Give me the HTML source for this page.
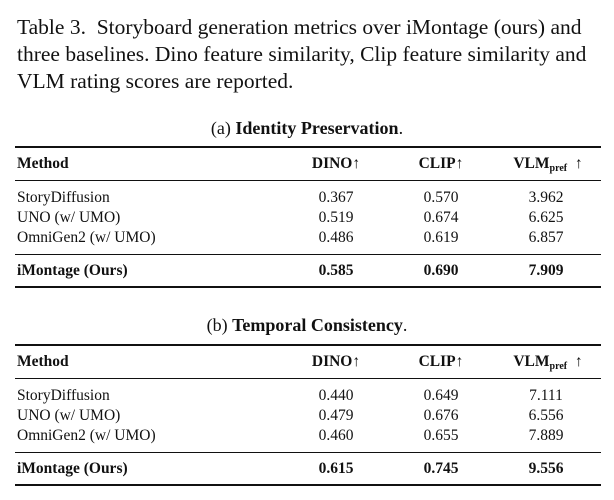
<!DOCTYPE html>
<html><head><meta charset="utf-8"><style>
html,body{margin:0;padding:0;background:#fff;}
body{width:614px;height:500px;position:relative;overflow:hidden;font-family:"Liberation Serif",serif;color:#111;}
.t{position:absolute;white-space:nowrap;line-height:1;}
.cap{font-size:21.5px;left:17px;}
.c{transform:translateX(-50%);}
.r{position:absolute;left:15px;width:586px;background:#111;}
.s{font-size:15.5px;}
b{font-weight:bold;}
sub{font-size:10px;vertical-align:-3px;}
</style></head><body>
<div class="t cap" style="top:17px">Table 3.&nbsp; Storyboard generation metrics over iMontage (ours) and</div>
<div class="t cap" style="top:44px">three baselines. Dino feature similarity, Clip feature similarity and</div>
<div class="t cap" style="top:71px">VLM rating scores are reported.</div>

<div class="t c" style="left:307px;top:119px;font-size:18px">(a) <b>Identity Preservation</b>.</div>
<div class="r" style="top:146px;height:2px"></div>
<div class="t s" style="left:17px;top:156px"><b>Method</b></div>
<div class="t s c" style="left:336px;top:156px"><b>DINO↑</b></div>
<div class="t s c" style="left:441px;top:156px"><b>CLIP↑</b></div>
<div class="t s c" style="left:548px;top:156px"><b>VLM<sub>pref</sub></b> &nbsp;↑</div>
<div class="r" style="top:180px;height:1px"></div>
<div class="t s" style="left:17px;top:190px">StoryDiffusion</div>
<div class="t s" style="left:17px;top:210px">UNO (w/ UMO)</div>
<div class="t s" style="left:17px;top:230px">OmniGen2 (w/ UMO)</div>
<div class="t s c" style="left:336px;top:190px">0.367</div><div class="t s c" style="left:441px;top:190px">0.570</div><div class="t s c" style="left:546px;top:190px">3.962</div>
<div class="t s c" style="left:336px;top:210px">0.519</div><div class="t s c" style="left:441px;top:210px">0.674</div><div class="t s c" style="left:546px;top:210px">6.625</div>
<div class="t s c" style="left:336px;top:230px">0.486</div><div class="t s c" style="left:441px;top:230px">0.619</div><div class="t s c" style="left:546px;top:230px">6.857</div>
<div class="r" style="top:254px;height:1px"></div>
<div class="t s" style="left:17px;top:263px"><b>iMontage (Ours)</b></div>
<div class="t s c" style="left:336px;top:263px"><b>0.585</b></div><div class="t s c" style="left:441px;top:263px"><b>0.690</b></div><div class="t s c" style="left:546px;top:263px"><b>7.909</b></div>
<div class="r" style="top:286px;height:2px"></div>

<div class="t c" style="left:307px;top:316px;font-size:18px">(b) <b>Temporal Consistency</b>.</div>
<div class="r" style="top:344px;height:2px"></div>
<div class="t s" style="left:17px;top:354px"><b>Method</b></div>
<div class="t s c" style="left:336px;top:354px"><b>DINO↑</b></div>
<div class="t s c" style="left:441px;top:354px"><b>CLIP↑</b></div>
<div class="t s c" style="left:548px;top:354px"><b>VLM<sub>pref</sub></b> &nbsp;↑</div>
<div class="r" style="top:378px;height:1px"></div>
<div class="t s" style="left:17px;top:388px">StoryDiffusion</div>
<div class="t s" style="left:17px;top:408px">UNO (w/ UMO)</div>
<div class="t s" style="left:17px;top:428px">OmniGen2 (w/ UMO)</div>
<div class="t s c" style="left:336px;top:388px">0.440</div><div class="t s c" style="left:441px;top:388px">0.649</div><div class="t s c" style="left:546px;top:388px">7.111</div>
<div class="t s c" style="left:336px;top:408px">0.479</div><div class="t s c" style="left:441px;top:408px">0.676</div><div class="t s c" style="left:546px;top:408px">6.556</div>
<div class="t s c" style="left:336px;top:428px">0.460</div><div class="t s c" style="left:441px;top:428px">0.655</div><div class="t s c" style="left:546px;top:428px">7.889</div>
<div class="r" style="top:452px;height:1px"></div>
<div class="t s" style="left:17px;top:461px"><b>iMontage (Ours)</b></div>
<div class="t s c" style="left:336px;top:461px"><b>0.615</b></div><div class="t s c" style="left:441px;top:461px"><b>0.745</b></div><div class="t s c" style="left:546px;top:461px"><b>9.556</b></div>
<div class="r" style="top:484px;height:2px"></div>
</body></html>
